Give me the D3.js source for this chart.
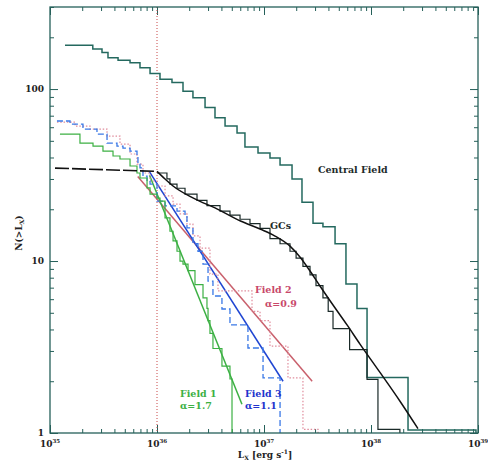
<!DOCTYPE html>
<html><head><meta charset="utf-8">
<script src="https://cdn.jsdelivr.net/npm/d3@7"></script>
<style>body{margin:0;background:#fff}</style>
</head><body>
<svg id="c" width="488" height="466"></svg>
<script>
// ---- data (log10 L breakpoints, N(>L) levels) ----
const centralLogL = [35.14,35.40,35.486,35.542,35.636,35.748,35.841,35.935,36.028,36.14,36.243,36.336,36.449,36.542,36.636,36.748,36.822,36.944,37.056,37.15,37.262,37.355,37.458,37.551,37.664,37.766,37.869,37.963,38.346];
const centralN    = [180,171,163,152,147,142,133,123,114,109,97,89,78,68,61,55.6,46,42.5,39.7,36.2,30,22,16.6,15.8,12.6,7.35,5.3,2.1,1.04];
const centralEnd  = 38.981;

const gcLogL = [36.0,36.093,36.121,36.187,36.262,36.374,36.467,36.589,36.682,36.776,36.869,36.963,37.056,37.15,37.243,37.30,37.364,37.43,37.486,37.551,37.60,37.645,37.80,37.963,38.065];
const gcN    = [32.5,30,28,26.5,24.5,22.5,21,19.5,18.5,17.5,16.5,15.5,13.5,12.6,11.4,10.4,9.3,8.3,7.2,6.1,5.1,4.05,3.05,2.05,1.05];
const gcEnd  = 38.27;

const gcFitDashLogL = [35.047,36.0];
const gcFitDashN    = [34.7,33.2];
const gcFitLogL = [36.0,36.075,36.15,36.34,36.56,36.78,36.963,37.103,37.243,37.336,37.43,37.523,37.645,37.776,37.897,38.084,38.271,38.439];
const gcFitN    = [33.2,30,27.3,23.2,20.1,17.1,15.35,13.97,12.2,10.55,8.75,7.16,5.55,4.25,3.29,2.25,1.53,1.06];

const f1LogL = [35.093,35.28,35.402,35.495,35.589,35.654,35.748,35.813,35.841,35.907,35.935,36.0,36.028,36.075,36.121,36.15,36.187,36.215,36.243,36.29,36.355,36.43,36.467,36.477,36.495,36.523,36.607,36.682];
const f1N    = [54.7,48.5,46.6,43.6,40.8,39.2,35.7,32.5,30.4,26.6,24.5,23.2,22.3,17.8,14.9,13.1,11.4,10.0,9.6,8.8,7.3,6.1,5.3,4.5,3.8,3.1,2.45,2.06];
const f1End  = 36.701;

const f2LogL = [35.065,35.234,35.374,35.533,35.654,35.748,35.813,35.869,35.935,36.0,36.075,36.15,36.215,36.28,36.336,36.402,36.495,36.57,36.888,36.963,37.056,37.224,37.364];
const f2N    = [64.3,60.9,58.5,53.3,47.9,41.9,36.6,32.5,29.2,27.3,23.9,21.4,18.8,16.4,14.0,11.9,8.4,6.7,5.1,4.5,3.2,2.09,1.05];
const f2End  = 37.505;

const f3LogL = [35.065,35.187,35.308,35.439,35.533,35.626,35.682,35.748,35.813,35.822,35.841,35.869,35.907,35.935,36.0,36.075,36.187,36.262,36.28,36.336,36.383,36.43,36.477,36.523,36.607,36.682,36.850,36.991];
const f3N    = [65.2,62.6,58.5,54.7,48.5,46.6,45.4,43.6,40.8,36.6,34.8,31.2,29.2,28.0,22.3,20.9,19.5,18.3,15.6,12.6,11.4,9.6,7.65,6.26,5.26,4.25,3.12,2.09];
const f3End  = 37.15;

// fitted power laws: [logL start, N start], [logL end, N end]
const fit1 = [[35.93,31.5],[36.794,1.47]];
const fit2 = [[35.82,31.0],[37.45,2.0]];
const fit3 = [[35.93,33.0],[37.178,2.0]];

const xMajor = [35,36,37,38,39];
const yMajor = [1,10,100];
const yLabels = ["1","10","100"];

// ---- scales ----
const svg = d3.select("#c");
const X0=50, X1=478, Y0=433, Y1=7;
const x = d3.scaleLog().domain([1e35,1e39]).range([X0,X1]);
const y = d3.scaleLog().domain([1,300]).range([Y0,Y1]);
const P = v => Math.pow(10,v);

svg.append("defs").append("clipPath").attr("id","clip")
  .append("rect").attr("x",X0).attr("y",Y1).attr("width",X1-X0).attr("height",Y0-Y1);

const xMinor = [];
for (let e=35;e<39;e++) for (let m=2;m<=9;m++) xMinor.push(m*P(e));
const yMinor = [];
for (let e=0;e<3;e++) for (let m=2;m<=9;m++) { const v=m*P(e); if (v<=300) yMinor.push(v); }

const frameCol = "#25605a";
const fontFam = "'DejaVu Serif', serif";

function styleAxis(g){ g.select(".domain").remove(); g.selectAll("line").attr("stroke",frameCol).attr("stroke-width",1); }

// bottom axis
svg.append("g").attr("transform",`translate(0,${Y0})`)
  .call(d3.axisBottom(x).tickValues(xMajor.map(P)).tickSize(-8).tickFormat(()=>""))
  .call(styleAxis);
svg.append("g").attr("transform",`translate(0,${Y0})`)
  .call(d3.axisBottom(x).tickValues(xMinor).tickSize(-4).tickFormat(()=>""))
  .call(styleAxis);
svg.append("g").attr("transform",`translate(0,${Y1})`)
  .call(d3.axisTop(x).tickValues(xMajor.map(P)).tickSize(-8).tickFormat(()=>""))
  .call(styleAxis);
svg.append("g").attr("transform",`translate(0,${Y1})`)
  .call(d3.axisTop(x).tickValues(xMinor).tickSize(-4).tickFormat(()=>""))
  .call(styleAxis);
svg.append("g").attr("transform",`translate(${X0},0)`)
  .call(d3.axisLeft(y).tickValues(yMajor).tickSize(-8).tickFormat(()=>""))
  .call(styleAxis);
svg.append("g").attr("transform",`translate(${X0},0)`)
  .call(d3.axisLeft(y).tickValues(yMinor).tickSize(-4).tickFormat(()=>""))
  .call(styleAxis);
svg.append("g").attr("transform",`translate(${X1},0)`)
  .call(d3.axisRight(y).tickValues(yMajor).tickSize(-8).tickFormat(()=>""))
  .call(styleAxis);
svg.append("g").attr("transform",`translate(${X1},0)`)
  .call(d3.axisRight(y).tickValues(yMinor).tickSize(-4).tickFormat(()=>""))
  .call(styleAxis);

// tick labels
const xl = svg.append("g").attr("font-family",fontFam).attr("font-weight","bold").attr("fill","#222");
xMajor.forEach(e=>{
  const t = xl.append("text").attr("x",x(P(e))).attr("y",Y0+14).attr("text-anchor","middle").attr("font-size",9);
  t.append("tspan").text("10");
  t.append("tspan").attr("dy",-4).attr("font-size",5.5).text(e);
});
yMajor.forEach((v,i)=>{
  xl.append("text").attr("x",X0-6).attr("y",y(v)+3).attr("text-anchor","end").attr("font-size",9).text(yLabels[i]);
});

// axis titles
const xt = svg.append("text").attr("x",265).attr("y",458).attr("text-anchor","middle")
  .attr("font-family",fontFam).attr("font-weight","bold").attr("font-size",9).attr("fill","#222");
xt.append("tspan").text("L");
xt.append("tspan").attr("dy",2).attr("font-size",6).text("X");
xt.append("tspan").attr("dy",-2).text(" [erg s");
xt.append("tspan").attr("dy",-4).attr("font-size",6).text("-1");
xt.append("tspan").attr("dy",4).text("]");

const yt = svg.append("text").attr("transform","translate(22,233) rotate(-90)").attr("text-anchor","middle")
  .attr("font-family",fontFam).attr("font-weight","bold").attr("font-size",9).attr("fill","#222");
yt.append("tspan").text("N(>L");
yt.append("tspan").attr("dy",2).attr("font-size",6).text("X");
yt.append("tspan").attr("dy",-2).text(")");

// plot area
const plot = svg.append("g").attr("clip-path","url(#clip)");

// vertical dotted line at 1e36
plot.append("line").attr("x1",x(1e36)).attr("x2",x(1e36)).attr("y1",Y1).attr("y2",Y0)
  .attr("stroke","#c84848").attr("stroke-width",1).attr("stroke-dasharray","1,2");

const stepLine = d3.line().x(d=>x(P(d[0]))).y(d=>y(d[1])).curve(d3.curveStepAfter);
const plainLine = d3.line().x(d=>x(P(d[0]))).y(d=>y(d[1]));
const smoothLine = d3.line().x(d=>x(P(d[0]))).y(d=>y(d[1])).curve(d3.curveMonotoneX);

function stepPts(Ls,Ns,end){
  const pts = Ls.map((l,i)=>[l,Ns[i]]);
  pts.push([end,Ns[Ns.length-1]]);
  pts.push([end,0.9]);
  return pts;
}

// fit lines
[[fit2,"#c9606c"],[fit3,"#1f45d2"],[fit1,"#3cb043"]].forEach(([f,c])=>{
  plot.append("path").attr("d",plainLine(f)).attr("fill","none").attr("stroke",c).attr("stroke-width",1.5);
});

// field step histograms
plot.append("path").attr("d",stepLine(stepPts(f2LogL,f2N,f2End))).attr("fill","none")
  .attr("stroke","#e08c9c").attr("stroke-width",1.2).attr("stroke-dasharray","1.5,1.8");
plot.append("path").attr("d",stepLine(stepPts(f3LogL,f3N,f3End))).attr("fill","none")
  .attr("stroke","#3a78e6").attr("stroke-width",1.3).attr("stroke-dasharray","6,3");
plot.append("path").attr("d",stepLine(stepPts(f1LogL,f1N,f1End))).attr("fill","none")
  .attr("stroke","#3cb043").attr("stroke-width",1.2);

// central field
plot.append("path").attr("d",stepLine(stepPts(centralLogL,centralN,centralEnd))).attr("fill","none")
  .attr("stroke","#24695f").attr("stroke-width",1.5);

// GCs
plot.append("path").attr("d",stepLine(stepPts(gcLogL,gcN,gcEnd))).attr("fill","none")
  .attr("stroke","#1a2a28").attr("stroke-width",1.2);
plot.append("path").attr("d",plainLine(gcFitDashLogL.map((l,i)=>[l,gcFitDashN[i]]))).attr("fill","none")
  .attr("stroke","#111").attr("stroke-width",1.6).attr("stroke-dasharray","14,3");
plot.append("path").attr("d",smoothLine(gcFitLogL.map((l,i)=>[l,gcFitN[i]]))).attr("fill","none")
  .attr("stroke","#111").attr("stroke-width",1.5);

// frame
svg.append("rect").attr("x",X0).attr("y",Y1).attr("width",X1-X0).attr("height",Y0-Y1)
  .attr("fill","none").attr("stroke",frameCol).attr("stroke-width",1.3);

// annotations
const ann = svg.append("g").attr("font-family",fontFam).attr("font-weight","bold").attr("font-size",9.5);
ann.append("text").attr("x",318).attr("y",173).attr("fill","#1e2b2a").text("Central Field");
ann.append("text").attr("x",270).attr("y",229).attr("fill","#1e2b2a").text("GCs");
ann.append("text").attr("x",255).attr("y",293).attr("fill","#c8486a").text("Field 2");
ann.append("text").attr("x",265).attr("y",307).attr("fill","#c8486a").text("α=0.9");
ann.append("text").attr("x",245).attr("y",397).attr("fill","#2233cc").text("Field 3");
ann.append("text").attr("x",245).attr("y",409).attr("fill","#2233cc").text("α=1.1");
ann.append("text").attr("x",180).attr("y",397).attr("fill","#3cb043").text("Field 1");
ann.append("text").attr("x",180).attr("y",409).attr("fill","#3cb043").text("α=1.7");
</script>
</body></html>
